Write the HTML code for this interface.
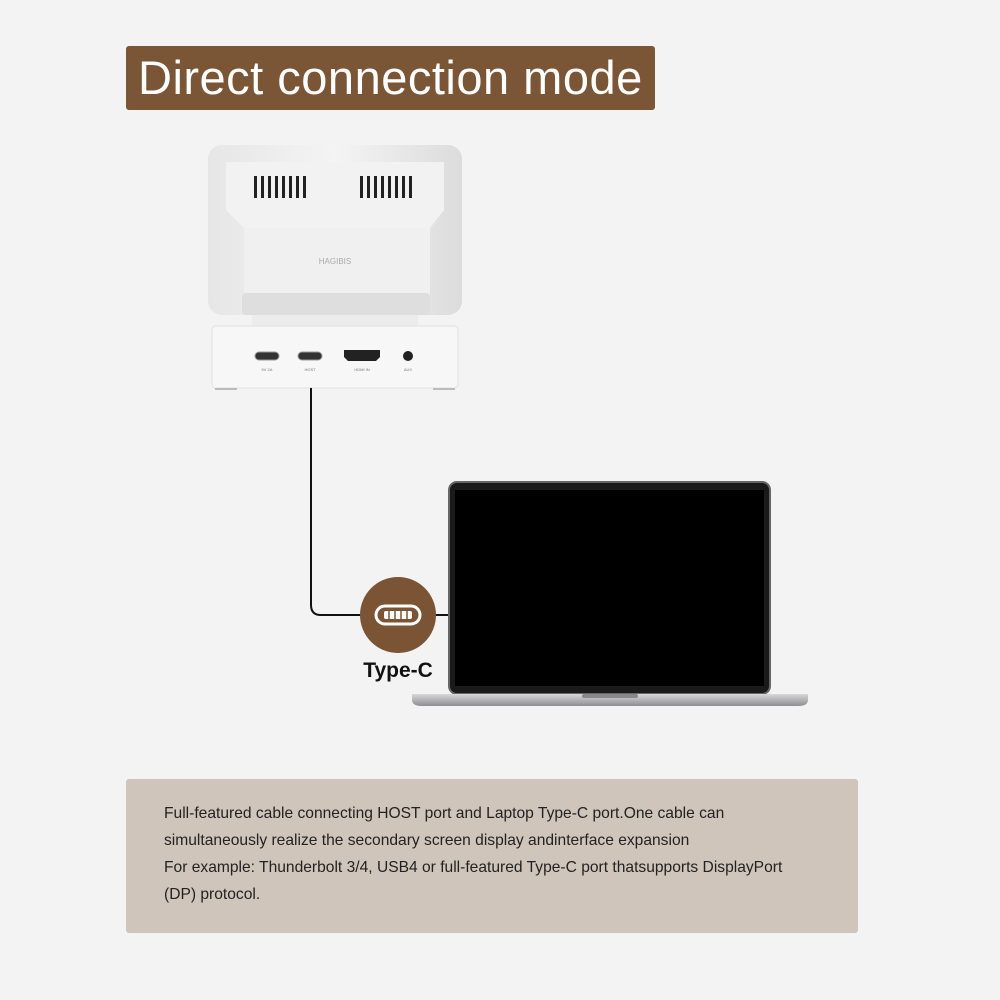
<!DOCTYPE html>
<html><head><meta charset="utf-8"><style>
body{margin:0;width:1000px;height:1000px;background:#f3f3f3;position:relative;overflow:hidden;font-family:"Liberation Sans",sans-serif}
.a{position:absolute}
</style></head><body>
<div class="a" style="left:126px;top:46px;width:529px;height:64px;background:#7a5636;border-radius:3px"></div>
<div class="a" style="left:138px;top:48px;color:#fff;font-size:47px;line-height:60px;letter-spacing:0.5px">Direct connection mode</div>

<svg class="a" style="left:0;top:0" width="1000" height="1000">
<defs><linearGradient id="g" x1="0" x2="1"><stop offset="0" stop-color="#e6e6e6"/><stop offset="0.5" stop-color="#f4f4f4"/><stop offset="1" stop-color="#dcdcdc"/></linearGradient>
<linearGradient id="s" x1="0" x2="0" y1="0" y2="1"><stop offset="0" stop-color="#d8d8da"/><stop offset="1" stop-color="#8e8e92"/></linearGradient></defs>
<rect x="208" y="145" width="254" height="170" rx="14" fill="url(#g)"/>
<path d="M226 162 H444 V210 L430 228 H244 L226 210 Z" fill="#f2f2f2"/>
<rect x="244" y="228" width="186" height="70" fill="#f0f0f0"/>
<rect x="242" y="293" width="188" height="22" rx="4" fill="#dedede"/>
<g fill="#222">
<rect x="254" y="176" width="3" height="22"/><rect x="261" y="176" width="3" height="22"/><rect x="268" y="176" width="3" height="22"/><rect x="275" y="176" width="3" height="22"/><rect x="282" y="176" width="3" height="22"/><rect x="289" y="176" width="3" height="22"/><rect x="296" y="176" width="3" height="22"/><rect x="303" y="176" width="3" height="22"/>
<rect x="360" y="176" width="3" height="22"/><rect x="367" y="176" width="3" height="22"/><rect x="374" y="176" width="3" height="22"/><rect x="381" y="176" width="3" height="22"/><rect x="388" y="176" width="3" height="22"/><rect x="395" y="176" width="3" height="22"/><rect x="402" y="176" width="3" height="22"/><rect x="409" y="176" width="3" height="22"/>
</g>
<text x="335" y="264" font-size="8" fill="#aaa" text-anchor="middle" font-family="Liberation Sans">HAGIBIS</text>
<rect x="252" y="315" width="166" height="12" fill="#ececec"/>
<rect x="212" y="326" width="246" height="62" rx="4" fill="#f7f7f7" stroke="#e2e2e2"/>
<rect x="215" y="388" width="22" height="2" fill="#bbb"/><rect x="433" y="388" width="22" height="2" fill="#bbb"/>
<rect x="255" y="352" width="24" height="8" rx="4" fill="#333" stroke="#999"/>
<rect x="298" y="352" width="24" height="8" rx="4" fill="#333" stroke="#999"/>
<path d="M344 350 H380 V357 L376 361 H348 L344 357 Z" fill="#222"/>
<circle cx="408" cy="356" r="5" fill="#222"/>
<g font-size="4" fill="#777" text-anchor="middle" font-family="Liberation Sans"><text x="267" y="371">5V 2A</text><text x="310" y="371">HOST</text><text x="362" y="371">HDMI IN</text><text x="408" y="371">AUX</text></g>
<path d="M311 388 V605 Q311 615 321 615 H362 M434 615 H450" fill="none" stroke="#111" stroke-width="2"/>
<rect x="449" y="482" width="321" height="212" rx="8" fill="#1a1a1a" stroke="#666" stroke-width="2"/>
<rect x="455" y="490" width="309" height="196" fill="#000"/>
<path d="M412 694 H808 V700 Q808 706 798 706 H422 Q412 706 412 700 Z" fill="url(#s)"/>
<rect x="582" y="694" width="56" height="4" rx="2" fill="#888"/>
<circle cx="398" cy="615" r="38" fill="#7a5434"/>
<rect x="376" y="606" width="44" height="18" rx="9" fill="none" stroke="#fff" stroke-width="3"/>
<rect x="384" y="611" width="28" height="8" rx="2" fill="#fff"/>
<g stroke="#7a5434" stroke-width="1.5"><line x1="389" y1="611" x2="389" y2="619"/><line x1="395" y1="611" x2="395" y2="619"/><line x1="401" y1="611" x2="401" y2="619"/><line x1="407" y1="611" x2="407" y2="619"/></g>
<text x="398" y="677" font-size="21" font-weight="bold" fill="#111" text-anchor="middle" font-family="Liberation Sans">Type-C</text>
</svg>

<div class="a" style="left:126px;top:779px;width:732px;height:154px;background:#d0c5bb;border-radius:3px"></div>
<div class="a" style="left:164px;top:800px;width:690px;font-size:15.6px;line-height:27px;color:#222">Full-featured cable connecting HOST port and Laptop Type-C port.One cable can<br>simultaneously realize the secondary screen display andinterface expansion<br>For example: Thunderbolt 3/4, USB4 or full-featured Type-C port thatsupports DisplayPort<br>(DP) protocol.</div>
</body></html>
